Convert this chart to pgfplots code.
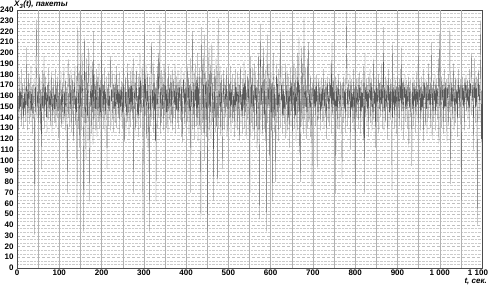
\documentclass[border=0pt]{standalone}
\usepackage{fontspec}
\setmainfont{Liberation Sans}
\usepackage{pgfplots}
\pgfplotsset{compat=1.18}
\begin{document}
\begin{tikzpicture}
\begin{axis}[
  scale only axis, width=465pt, height=258pt,
  xmin=0, xmax=1100, ymin=0, ymax=240,
  xtick={0,100,...,1100},
  xticklabels={0,100,200,300,400,500,600,700,800,900,1 000,{\makebox[0pt][r]{1 100\hspace*{-6pt}}}},
  ytick={0,10,...,240},
  minor y tick num=2,
  ymajorgrids, yminorgrids,
  major grid style={densely dashed, gray!50, line width=0.3pt},
  minor grid style={densely dotted, gray!40, line width=0.3pt},
  extra x ticks={50,100,...,1050},
  extra x tick labels={},
  extra x tick style={grid=major, major grid style={solid, gray!60, line width=0.35pt}},
  major tick length=0pt, minor tick length=0pt,
  tick label style={font=\fontsize{8}{9}\selectfont\bfseries},
  xticklabel style={yshift=1.5pt},
  /pgf/number format/assume math mode=true,
  axis line style={black!70, line width=0.5pt},
]
\addplot[black!65, line width=0.2pt, mark=none] table[x expr=\coordindex, y index=0, header=false, row sep=\\] {
150\\168\\232\\72\\160\\145\\178\\138\\165\\150\\
185\\132\\160\\172\\142\\158\\130\\176\\148\\163\\
136\\170\\152\\205\\128\\166\\144\\181\\150\\134\\
172\\157\\140\\188\\146\\162\\125\\170\\153\\139\\
176\\160\\31\\168\\145\\190\\231\\138\\164\\150\\
172\\135\\158\\180\\142\\166\\128\\174\\92\\160\\
148\\184\\137\\162\\197\\130\\168\\152\\178\\140\\
163\\126\\170\\155\\186\\138\\160\\145\\175\\132\\
165\\150\\182\\127\\168\\142\\158\\176\\135\\162\\
148\\185\\130\\170\\154\\140\\178\\146\\163\\121\\
160\\175\\138\\152\\183\\130\\166\\145\\172\\134\\
158\\187\\141\\164\\128\\176\\150\\168\\136\\70\\
162\\194\\140\\157\\180\\131\\170\\148\\185\\126\\
160\\176\\143\\166\\118\\172\\152\\188\\133\\160\\
145\\179\\45\\168\\225\\130\\158\\184\\112\\170\\
150\\190\\128\\165\\200\\140\\175\\120\\34\\168\\
215\\135\\182\\100\\160\\195\\142\\172\\118\\178\\
205\\130\\62\\165\\150\\188\\125\\170\\145\\192\\
115\\220\\138\\160\\180\\128\\172\\148\\185\\122\\
163\\178\\136\\158\\190\\130\\168\\145\\175\\73\\
210\\140\\162\\180\\130\\170\\152\\186\\127\\164\\
143\\178\\136\\92\\168\\150\\182\\132\\160\\146\\
175\\197\\128\\166\\155\\184\\138\\162\\172\\126\\
168\\148\\180\\135\\158\\188\\130\\170\\152\\176\\
140\\164\\125\\182\\150\\166\\137\\174\\158\\130\\
172\\145\\186\\133\\117\\168\\150\\178\\128\\164\\
142\\190\\136\\160\\175\\124\\168\\152\\183\\131\\
170\\146\\187\\138\\162\\195\\70\\165\\148\\180\\
127\\172\\155\\185\\134\\160\\143\\178\\122\\168\\
150\\200\\130\\175\\145\\160\\188\\132\\45\\170\\
150\\217\\128\\176\\142\\190\\120\\165\\155\\182\\
112\\170\\145\\34\\178\\160\\132\\185\\210\\138\\
166\\150\\192\\126\\172\\146\\180\\118\\168\\62\\
175\\152\\188\\130\\165\\200\\140\\172\\230\\125\\
160\\184\\135\\168\\148\\178\\128\\162\\190\\142\\
170\\155\\182\\130\\166\\145\\176\\126\\162\\188\\
138\\168\\150\\180\\132\\172\\143\\185\\128\\160\\
176\\140\\165\\152\\190\\125\\170\\146\\178\\135\\
160\\184\\130\\168\\155\\175\\138\\162\\186\\122\\
170\\148\\117\\176\\158\\182\\134\\166\\145\\172\\
130\\168\\152\\188\\136\\162\\178\\125\\170\\146\\
195\\70\\165\\150\\180\\220\\128\\172\\143\\185\\
120\\166\\155\\190\\132\\175\\140\\200\\118\\168\\
152\\186\\130\\178\\110\\45\\172\\224\\135\\165\\
195\\126\\170\\217\\100\\160\\182\\138\\176\\122\\
168\\34\\175\\150\\205\\128\\180\\145\\190\\120\\
166\\210\\136\\172\\155\\63\\178\\140\\185\\126\\
168\\195\\132\\160\\78\\176\\232\\130\\165\\150\\
188\\124\\172\\145\\180\\135\\92\\168\\154\\184\\
128\\162\\176\\140\\170\\150\\186\\122\\165\\148\\
178\\132\\160\\172\\140\\188\\126\\166\\152\\180\\
135\\170\\145\\160\\122\\176\\150\\185\\130\\168\\
155\\182\\128\\164\\142\\178\\118\\170\\152\\188\\
134\\162\\146\\176\\125\\168\\150\\192\\130\\172\\
145\\184\\120\\166\\155\\180\\138\\163\\176\\128\\
160\\70\\168\\197\\135\\172\\150\\186\\126\\165\\
145\\190\\120\\170\\156\\182\\132\\168\\110\\175\\
148\\200\\128\\165\\45\\178\\227\\138\\170\\152\\
188\\124\\166\\205\\140\\176\\130\\185\\118\\160\\
34\\172\\217\\135\\168\\150\\190\\100\\176\\145\\
166\\182\\128\\172\\62\\165\\200\\140\\178\\126\\
170\\152\\80\\168\\190\\135\\176\\145\\185\\118\\
163\\150\\180\\221\\130\\170\\155\\188\\125\\166\\
142\\176\\134\\162\\148\\190\\120\\170\\152\\184\\
128\\165\\140\\178\\112\\168\\155\\186\\132\\172\\
146\\180\\125\\165\\150\\192\\130\\172\\142\\186\\
118\\168\\155\\200\\128\\175\\145\\215\\105\\170\\
152\\80\\176\\205\\132\\168\\190\\125\\172\\232\\
138\\165\\150\\186\\120\\170\\145\\195\\130\\172\\
210\\135\\166\\150\\180\\122\\168\\155\\76\\172\\
160\\175\\140\\166\\150\\178\\132\\170\\155\\180\\
92\\165\\145\\176\\138\\168\\152\\174\\128\\162\\
148\\177\\136\\170\\156\\185\\130\\166\\150\\175\\
140\\168\\120\\172\\155\\178\\135\\164\\148\\176\\
132\\170\\158\\190\\125\\210\\142\\168\\152\\176\\
138\\165\\150\\178\\69\\170\\146\\175\\130\\168\\
155\\180\\128\\166\\150\\174\\140\\170\\118\\84\\
172\\158\\178\\135\\165\\148\\176\\126\\170\\195\\
238\\132\\168\\152\\175\\140\\166\\155\\180\\110\\
170\\148\\176\\135\\162\\150\\185\\128\\168\\155\\
78\\172\\145\\176\\138\\166\\152\\178\\130\\170\\
156\\182\\125\\168\\146\\175\\136\\164\\150\\188\\
118\\172\\70\\200\\140\\168\\155\\176\\132\\170\\
148\\178\\122\\166\\158\\185\\135\\172\\150\\176\\
128\\168\\145\\195\\138\\165\\152\\178\\112\\170\\
150\\176\\136\\168\\155\\180\\125\\172\\148\\175\\
140\\166\\152\\190\\130\\170\\158\\224\\128\\168\\
146\\178\\135\\165\\150\\176\\120\\170\\156\\185\\
132\\168\\145\\176\\138\\172\\160\\73\\210\\140\\
168\\152\\178\\130\\166\\150\\175\\125\\170\\155\\
178\\138\\168\\150\\176\\132\\170\\156\\185\\128\\
205\\145\\172\\152\\176\\120\\168\\158\\180\\136\\
166\\148\\175\\130\\170\\155\\178\\112\\168\\150\\
176\\140\\165\\158\\95\\172\\148\\178\\132\\168\\
155\\175\\126\\170\\150\\182\\138\\166\\152\\197\\
135\\170\\156\\176\\128\\168\\145\\178\\138\\165\\
150\\185\\118\\172\\158\\176\\132\\168\\148\\175\\
125\\170\\155\\190\\140\\166\\152\\178\\130\\172\\
158\\210\\120\\168\\146\\176\\136\\165\\155\\180\\
128\\170\\150\\176\\138\\168\\160\\195\\115\\172\\
218\\140\\168\\152\\178\\130\\170\\156\\176\\125\\
166\\148\\185\\136\\172\\150\\176\\118\\168\\158\\
180\\132\\170\\145\\224\\160\\78\\172\\150\\176\\
138\\168\\155\\190\\128\\170\\146\\178\\135\\166\\
152\\176\\122\\170\\158\\185\\140\\168\\150\\176\\
132\\63\\170\\156\\178\\140\\168\\150\\176\\128\\
172\\158\\180\\145\\170\\155\\176\\138\\168\\150\\
185\\130\\172\\160\\178\\200\\142\\170\\155\\176\\
110\\168\\158\\195\\135\\172\\150\\178\\145\\40\\
176\\160\\185\\138\\170\\155\\190\\230\\120\\165\\
90\\
};
\end{axis}
\node[anchor=south west, inner sep=0pt, font=\fontsize{8}{9}\selectfont\bfseries\itshape] at ([xshift=-3pt, yshift=1.5pt]current axis.north west) {X\textsubscript{3}(t), пакеты};
\node[anchor=north east, inner sep=0pt, font=\fontsize{8}{9}\selectfont\bfseries\itshape] at ([xshift=5pt, yshift=-10pt]current axis.south east) {t, сек.};
\pgfresetboundingbox
\path[use as bounding box] ([xshift=-17pt,yshift=-17pt]current axis.south west) rectangle ([xshift=6pt,yshift=10pt]current axis.north east);
\end{tikzpicture}
\end{document}
